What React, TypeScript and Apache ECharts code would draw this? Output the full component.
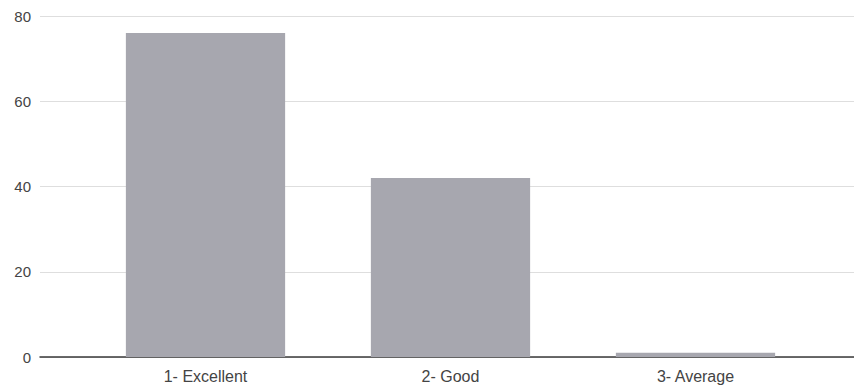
import React, { useEffect, useRef } from "react";
import * as echarts from "echarts";

const categories = ["1- Excellent", "2- Good", "3- Average"];
const values = [76, 42, 1];
const yTicks = { min: 0, max: 80, interval: 20 };

export default function App() {
  const ref = useRef<HTMLDivElement>(null);
  useEffect(() => {
    if (!ref.current) return;
    const chart = echarts.init(ref.current, undefined, { renderer: "svg" });
    const font = "Liberation Sans, Arial, sans-serif";
    chart.setOption({
      animation: false,
      backgroundColor: "#ffffff",
      grid: [
        { left: 40, right: 0, top: 16, bottom: 32 },
        { left: 83, right: 36, top: 16, bottom: 32 },
      ],
      xAxis: [
        {
          gridIndex: 0,
          type: "value",
          min: 0,
          max: 1,
          axisLine: { show: true, onZero: false, lineStyle: { color: "#3a3a3a", width: 1.5 } },
          axisTick: { show: false },
          axisLabel: { show: false },
          splitLine: { show: false },
        },
        {
          gridIndex: 1,
          type: "category",
          data: categories,
          axisLine: { show: false },
          axisTick: { show: false },
          axisLabel: { color: "#444", fontSize: 16, fontFamily: font, margin: 11 },
        },
      ],
      yAxis: [
        {
          gridIndex: 0,
          type: "value",
          min: yTicks.min,
          max: yTicks.max,
          interval: yTicks.interval,
          axisLine: { show: false },
          axisTick: { show: false },
          axisLabel: { color: "#444", fontSize: 15, fontFamily: font, margin: 9 },
          splitLine: { lineStyle: { color: "#dedede", width: 1 } },
        },
        {
          gridIndex: 1,
          type: "value",
          min: yTicks.min,
          max: yTicks.max,
          interval: yTicks.interval,
          show: false,
        },
      ],
      series: [
        {
          type: "bar",
          xAxisIndex: 1,
          yAxisIndex: 1,
          data: values,
          barCategoryGap: "35%",
          itemStyle: { color: "#a7a7af" },
        },
      ],
    });
    return () => chart.dispose();
  }, []);
  return <div ref={ref} style={{ width: 854, height: 389, position: "absolute", left: 0, top: 0 }} />;
}
